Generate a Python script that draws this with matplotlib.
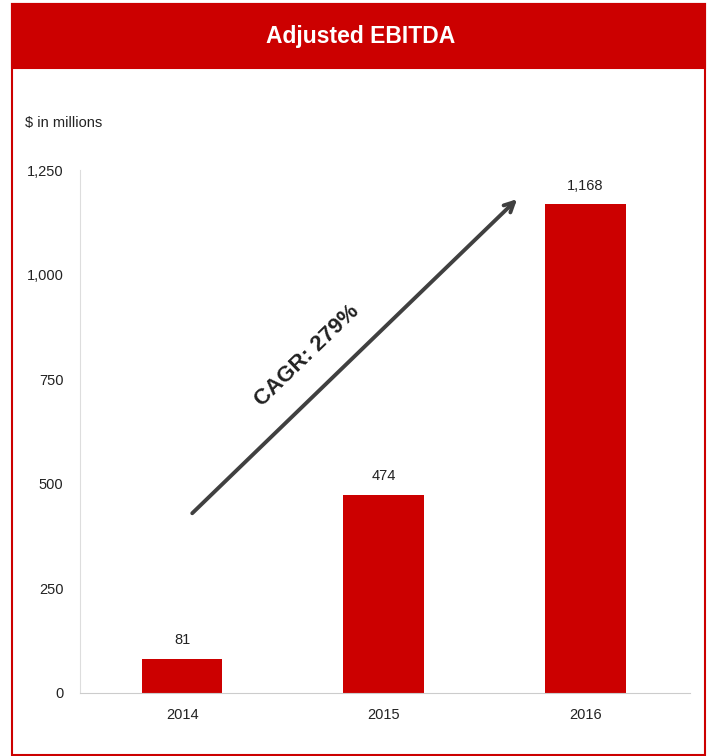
import matplotlib
matplotlib.use("Agg")
import matplotlib.pyplot as plt
from matplotlib.patches import Rectangle

plt.rcParams['font.family'] = ['Liberation Sans', 'DejaVu Sans']

years = ["2014", "2015", "2016"]
ebitda = [81, 474, 1168]
yticks = [0, 250, 500, 750, 1000, 1250]
cagr_label = "CAGR: 279%"

RED = "#CC0000"
W, H = 711, 756

fig = plt.figure(figsize=(W / 100, H / 100), dpi=100)

def fx(px):
    return px / W

def fy(py):
    return 1 - py / H

# outer frame and header band
fig.patches.append(Rectangle((fx(12), fy(755)), fx(705) - fx(12), fy(4) - fy(755),
                             transform=fig.transFigure, fill=False, edgecolor=RED, lw=1.5))
fig.patches.append(Rectangle((fx(12), fy(68)), fx(705) - fx(12), fy(4) - fy(68),
                             transform=fig.transFigure, facecolor=RED, edgecolor=RED, lw=1.5))
fig.text(fx(361), fy(37), "Adjusted EBITDA", color="white", fontsize=16.5,
         fontweight="bold", ha="center", va="center")
fig.text(fx(25), fy(123), "$ in millions", fontsize=10.5, ha="left", va="center", color="#222222")

ax = fig.add_axes([fx(80), fy(693), fx(690) - fx(80), fy(170) - fy(693)])
x = range(len(years))
ax.bar(x, ebitda, width=0.4, color=RED)
for xi, v in zip(x, ebitda):
    ax.text(xi, v + 28, f"{v:,}", ha="center", va="bottom", fontsize=10.5, color="#222222")

ax.set_xlim(-0.507, 2.52)
ax.set_ylim(0, 1250)
ax.set_yticks(yticks)
ax.set_yticklabels([f"{t:,}" for t in yticks], fontsize=10.5, color="#222222")
ax.set_xticks(list(x))
ax.set_xticklabels(years, fontsize=10.5, color="#222222")
ax.tick_params(length=0)
ax.tick_params(axis="y", pad=12)
ax.tick_params(axis="x", pad=11)
for s in ["top", "right"]:
    ax.spines[s].set_visible(False)
ax.spines["left"].set_color("#dddddd")
ax.spines["bottom"].set_color("#cccccc")

# growth arrow
ax.annotate("", xy=(1.672, 1185), xytext=(0.04, 425),
            arrowprops=dict(arrowstyle="->,head_length=0.7,head_width=0.35",
                            color="#404040", lw=2.8))
ax.text(0.62, 805, cagr_label, rotation=44, rotation_mode="anchor",
        ha="center", va="center", fontsize=16, fontweight="bold", color="#222222")

fig.savefig("out.png", dpi=100)
